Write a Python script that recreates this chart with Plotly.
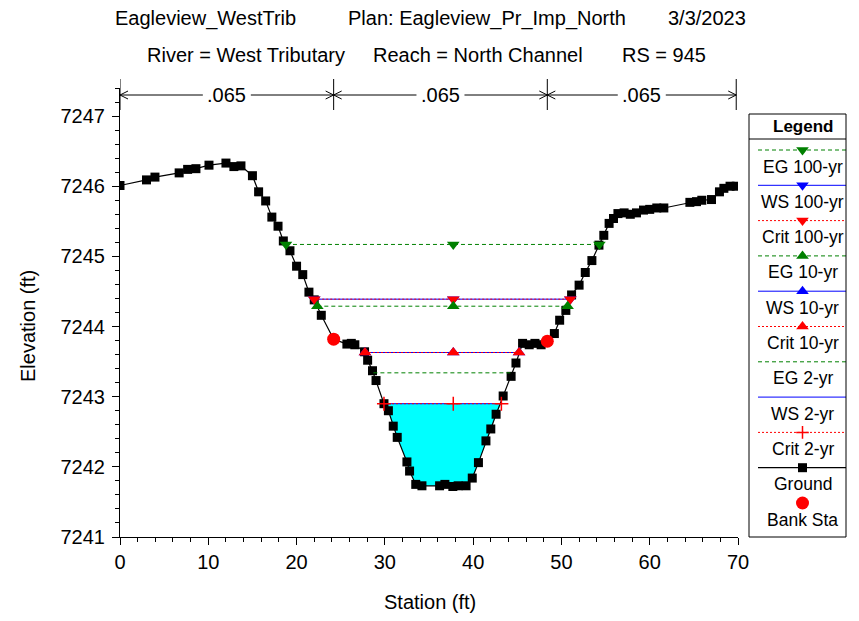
import plotly.graph_objects as go

# ---------------- data ----------------
title_line1 = ["Eagleview_WestTrib", "Plan: Eagleview_Pr_Imp_North", "3/3/2023"]
title_line2 = ["River = West Tributary", "Reach = North Channel", "RS = 945"]

ground_sta = [0.0, 3.0, 3.96, 6.7, 7.66, 8.6, 10.08, 12.0, 12.9, 13.7, 15.0, 15.7, 16.5,
              17.2, 17.9, 18.5, 19.25, 20.0, 20.7, 21.4, 22.0, 22.8, 24.2, 25.7, 26.2,
              26.6, 27.7, 28.05, 28.6, 29.0, 29.9, 30.4, 30.95, 31.4, 32.5, 32.8, 33.5,
              34.2, 36.2, 36.8, 37.7, 38.3, 39.2, 39.9, 40.6, 41.45, 42.0, 42.6, 43.4,
              44.3, 44.85, 45.6, 46.35, 47.0, 47.7, 48.4, 49.2, 49.8, 50.5, 51.15, 52.0,
              52.7, 53.45, 54.25, 54.8, 55.4, 55.9, 56.4, 57.1, 57.8, 58.5, 59.3, 60.0,
              60.8, 61.6, 64.55, 65.3, 65.9, 67.0, 67.9, 68.4, 69.1, 69.8]
ground_elev = [7246.01, 7246.09, 7246.13, 7246.19, 7246.24, 7246.25, 7246.30, 7246.33,
               7246.28, 7246.29, 7246.15, 7245.92, 7245.79, 7245.56, 7245.43, 7245.22,
               7245.08, 7244.86, 7244.74, 7244.49, 7244.38, 7244.16, 7243.82, 7243.75,
               7243.76, 7243.74, 7243.64, 7243.52, 7243.37, 7243.23, 7242.90, 7242.80,
               7242.58, 7242.42, 7242.07, 7241.94, 7241.75, 7241.73, 7241.73, 7241.75,
               7241.72, 7241.73, 7241.73, 7241.84, 7242.06, 7242.37, 7242.54, 7242.75,
               7243.01, 7243.29, 7243.48, 7243.76, 7243.74, 7243.76, 7243.74, 7243.79,
               7243.90, 7244.09, 7244.23, 7244.45, 7244.59, 7244.77, 7244.94, 7245.16,
               7245.30, 7245.47, 7245.54, 7245.61, 7245.62, 7245.60, 7245.62, 7245.66,
               7245.67, 7245.69, 7245.69, 7245.77, 7245.78, 7245.80, 7245.81, 7245.92,
               7245.97, 7246.00, 7246.00]

bank_sta = [24.2, 48.4]
bank_elev = [7243.82, 7243.79]

profiles = ["100-yr", "10-yr", "2-yr"]
eg_elev = [7245.17, 7244.29, 7243.34]
eg_left = [18.8, 22.35, 28.7]
eg_right = [54.3, 50.7, 44.4]
ws_elev = [7244.39, 7243.63, 7242.90]
ws_left = [22.0, 27.75, 29.9]
ws_right = [51.0, 45.2, 43.2]
crit_elev = [7244.39, 7243.63, 7242.90]
crit_left = [22.0, 27.75, 29.9]
crit_right = [51.0, 45.2, 43.2]
label_sta = 37.75

mann_n = [".065", ".065", ".065"]
mann_sta = [0.0, 24.2, 48.4, 69.8]

# ---------------- styling ----------------
FONT = "Liberation Sans, Arial, sans-serif"
OFF = 8                      # page body margin of the html page
W, H = 859 - 2 * OFF, 621 - 2 * OFF   # keep the page free of scrollbars
ML, MT = 120 - OFF, 88 - OFF
PLOT_BOTTOM = 537
MB = H - (PLOT_BOTTOM - OFF)
MR = 1
PW = W - ML - MR
PH = H - MT - MB


def X(px):
    """reference screen pixel -> paper x"""
    return (px - OFF - ML) / PW


def Y(py):
    """reference screen pixel -> paper y"""
    return (H - MB - (py - OFF)) / PH


GREEN, BLUE, RED = "#008000", "#0000FF", "#FF0000"
prof_symbols = ["triangle-down", "triangle-up", None]
crit_symbols = ["triangle-down", "triangle-up", "cross-thin"]
TRI = 11

fig = go.Figure()

# water fill for the lowest profile (2-yr)
lo = 2
fx = [ws_left[lo]] + [s for s in ground_sta if ws_left[lo] < s < ws_right[lo]] + [ws_right[lo]]
fy = [ws_elev[lo]] + [e for s, e in zip(ground_sta, ground_elev) if ws_left[lo] < s < ws_right[lo]] + [ws_elev[lo]]
fig.add_trace(go.Scatter(x=fx, y=fy, fill="toself", fillcolor="#00FFFF", mode="lines",
                         line=dict(width=0), hoverinfo="skip"))

# ground
fig.add_trace(go.Scatter(x=ground_sta, y=ground_elev, mode="lines+markers",
                         line=dict(color="black", width=1.2),
                         marker=dict(symbol="square", size=9, color="black")))

legend_items = []
for i, p in enumerate(profiles):
    specs = [
        ("EG " + p, eg_elev[i], eg_left[i], eg_right[i], GREEN, "4px,3px", prof_symbols[i]),
        ("WS " + p, ws_elev[i], ws_left[i], ws_right[i], BLUE, "solid", prof_symbols[i]),
        ("Crit " + p, crit_elev[i], crit_left[i], crit_right[i], RED, "2px,2px", crit_symbols[i]),
    ]
    for name, e, l, r, col, dash, sym in specs:
        xs = [l, label_sta, r]
        ys = [e, e, e]
        if sym is None:
            fig.add_trace(go.Scatter(x=xs, y=ys, mode="lines", line=dict(color=col, width=1, dash=dash)))
        else:
            msize = TRI if sym != "cross-thin" else 10
            fig.add_trace(go.Scatter(x=xs, y=ys, mode="lines+markers",
                                     line=dict(color=col, width=1, dash=dash),
                                     marker=dict(symbol=sym, size=msize, color=col,
                                                 line=dict(color=col, width=1.5 if sym == "cross-thin" else 0))))
        legend_items.append((name, col, dash, sym))

legend_items.append(("Ground", "black", "solid", "square"))

# bank stations
fig.add_trace(go.Scatter(x=bank_sta, y=bank_elev, mode="markers",
                         marker=dict(symbol="circle", size=13, color=RED)))

# ---------------- legend (drawn in a helper axis with pixel units) ----------------
LX0, LX1, LY0, LY1 = 749, 846, 114, 537
leg_mid = 802.5
first_line_y = 150
step = 35.3
annotations = []
shapes = []

shapes.append(dict(type="rect", xref="paper", yref="paper", x0=X(LX0), x1=X(LX1), y0=Y(LY1), y1=Y(LY0),
                   line=dict(color="black", width=1)))
shapes.append(dict(type="line", xref="paper", yref="paper", x0=X(LX0), x1=X(LX1), y0=Y(139), y1=Y(139),
                   line=dict(color="black", width=1)))
annotations.append(dict(text="<b>Legend</b>", xref="paper", yref="paper", x=X(leg_mid), y=Y(126),
                        showarrow=False, xanchor="center", yanchor="middle",
                        font=dict(family=FONT, size=17, color="black")))

for k, (name, col, dash, sym) in enumerate(legend_items):
    ly = first_line_y + k * step
    fig.add_trace(go.Scatter(x=[758, 846], y=[ly, ly], xaxis="x2", yaxis="y2", mode="lines",
                             line=dict(color=col, width=1.3 if name == "Ground" else 1, dash=dash),
                             cliponaxis=False))
    if sym is not None:
        fig.add_trace(go.Scatter(x=[leg_mid], y=[ly], xaxis="x2", yaxis="y2", mode="markers",
                                 marker=dict(symbol=sym, size=(TRI if sym not in ("square", "cross-thin") else 9),
                                             color=col,
                                             line=dict(color=col, width=1.5 if sym == "cross-thin" else 0)),
                                 cliponaxis=False))
    annotations.append(dict(text=name, xref="paper", yref="paper", x=X(leg_mid), y=Y(ly + 16.5),
                            showarrow=False, xanchor="center", yanchor="middle",
                            font=dict(family=FONT, size=17.5, color="black")))

bank_ly = first_line_y + len(legend_items) * step
fig.add_trace(go.Scatter(x=[leg_mid], y=[bank_ly], xaxis="x2", yaxis="y2", mode="markers",
                         marker=dict(symbol="circle", size=13, color=RED), cliponaxis=False))
annotations.append(dict(text="Bank Sta", xref="paper", yref="paper", x=X(leg_mid), y=Y(bank_ly + 16.5),
                        showarrow=False, xanchor="center", yanchor="middle",
                        font=dict(family=FONT, size=17.5, color="black")))

# ---------------- Manning's n band ----------------
band_y = 95
px_per_unit = (738 - 120) / 70.0
for b in mann_sta:
    shapes.append(dict(type="line", xref="x", yref="paper", x0=b, x1=b, y0=Y(79), y1=Y(110),
                       line=dict(color="black", width=1)))
gap = 24 / px_per_unit
chev_l = 8 / px_per_unit
for i, n in enumerate(mann_n):
    a, b = mann_sta[i], mann_sta[i + 1]
    c = (a + b) / 2
    annotations.append(dict(text=n, xref="x", yref="paper", x=c, y=Y(band_y), showarrow=False,
                            xanchor="center", yanchor="middle",
                            font=dict(family=FONT, size=20, color="black")))
    for x0, x1 in [(a, c - gap), (c + gap, b)]:
        shapes.append(dict(type="line", xref="x", yref="paper", x0=x0, x1=x1, y0=Y(band_y), y1=Y(band_y),
                           line=dict(color="black", width=1)))
    shapes.append(dict(type="path", xref="x", yref="paper",
                       path=f"M {a + chev_l},{Y(band_y - 4)} L {a},{Y(band_y)} L {a + chev_l},{Y(band_y + 4)}",
                       line=dict(color="black", width=1)))
    shapes.append(dict(type="path", xref="x", yref="paper",
                       path=f"M {b - chev_l},{Y(band_y - 4)} L {b},{Y(band_y)} L {b - chev_l},{Y(band_y + 4)}",
                       line=dict(color="black", width=1)))

# ---------------- titles ----------------
tfont = dict(family=FONT, size=20, color="black")
t1_pos = [(113, "left"), (346, "left"), (748, "right")]
t2_pos = [(145, "left"), (371, "left"), (708, "right")]
for txt, (px, anc) in zip(title_line1, t1_pos):
    annotations.append(dict(text=txt, xref="paper", yref="paper", x=X(px), y=Y(18), showarrow=False,
                            xanchor=anc, yanchor="middle", font=tfont))
for txt, (px, anc) in zip(title_line2, t2_pos):
    annotations.append(dict(text=txt, xref="paper", yref="paper", x=X(px), y=Y(55), showarrow=False,
                            xanchor=anc, yanchor="middle", font=tfont))

annotations.append(dict(text="Station (ft)", xref="paper", yref="paper", x=X(430), y=Y(602),
                        showarrow=False, xanchor="center", yanchor="middle", font=tfont))
annotations.append(dict(text="Elevation (ft)", xref="paper", yref="paper", x=X(28), y=Y(326),
                        showarrow=False, xanchor="center", yanchor="middle", textangle=-90, font=tfont))

fig.update_layout(
    template="none",
    width=W, height=H, autosize=False,
    margin=dict(l=ML, r=MR, t=MT, b=MB, pad=0, autoexpand=False),
    paper_bgcolor="white", plot_bgcolor="white",
    showlegend=False,
    font=dict(family=FONT, size=20, color="black"),
    xaxis=dict(domain=[0, X(738)], range=[0, 70], dtick=10, tick0=0, automargin=False,
               showline=True, linecolor="black", linewidth=1, ticks="outside", ticklen=7,
               tickcolor="black", showgrid=False, zeroline=False,
               minor=dict(dtick=2, tick0=0, ticks="outside", ticklen=4, tickcolor="black", showgrid=False),
               tickfont=dict(family=FONT, size=20, color="black")),
    yaxis=dict(range=[7241, 7247.4], dtick=1, tick0=7241, automargin=False,
               showline=True, linecolor="black", linewidth=1, ticks="outside", ticklen=7,
               tickcolor="black", showgrid=False, zeroline=False, ticklabelstandoff=3,
               minor=dict(dtick=0.2, tick0=7241, ticks="outside", ticklen=4, tickcolor="black", showgrid=False),
               tickfont=dict(family=FONT, size=20, color="black")),
    xaxis2=dict(domain=[X(LX0), min(1.0, X(LX1))], range=[LX0, LX1], visible=False, anchor="y2",
                fixedrange=True, automargin=False),
    yaxis2=dict(domain=[0, Y(LY0)], range=[LY1, LY0], visible=False, anchor="x2",
                fixedrange=True, automargin=False),
    shapes=shapes,
    annotations=annotations,
)

fig.write_html("out.html")
